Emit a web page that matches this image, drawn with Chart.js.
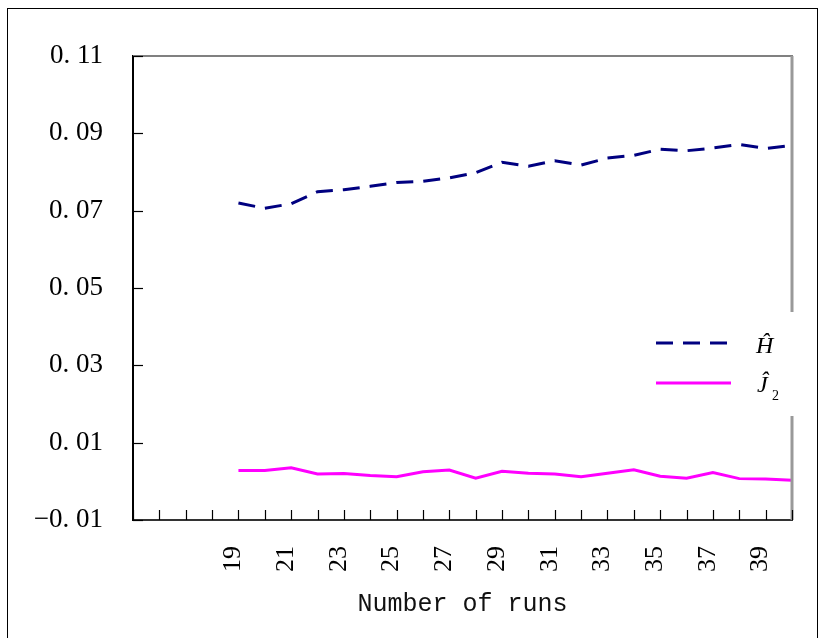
<!DOCTYPE html>
<html><head><meta charset="utf-8">
<script src="https://cdn.jsdelivr.net/npm/chart.js@4/dist/chart.umd.min.js"></script>
<style>
html,body{margin:0;padding:0;background:#fff;overflow:hidden}
#wrap{position:relative;width:820px;height:638px}
#frame{position:absolute;left:7px;top:8px;width:811px;height:700px;border:1px solid #000;box-sizing:border-box;pointer-events:none}
canvas{position:absolute;left:0;top:0}
</style></head><body>
<div id="wrap"><canvas id="c" width="820" height="638"></canvas><div id="frame"></div></div>
<script>
// Categories (number of runs)
const runs = [15,16,17,18,19,20,21,22,23,24,25,26,27,28,29,30,31,32,33,34,35,36,37,38,39,40];
const xTickLabels = ['','','','','19','','21','','23','','25','','27','','29','','31','','33','','35','','37','','39',''];
// Series
const hHat  = [null,null,null,null,0.0720,0.0706,0.0718,0.0749,0.0754,0.0763,0.0773,0.0776,0.0785,0.0798,0.0825,0.0815,0.0829,0.0818,0.0836,0.0843,0.0859,0.0855,0.0862,0.0871,0.0861,0.0869];
const j2Hat = [null,null,null,null,0.0028,0.0028,0.0035,0.0019,0.0020,0.0015,0.0012,0.0025,0.0029,0.0008,0.0026,0.0021,0.0019,0.0012,0.0021,0.0030,0.0013,0.0008,0.0023,0.0007,0.0006,0.0003];
const seriesNames = ['\u0124','\u0134'];
// Y ticks
const yTickValues = [-0.01,0.01,0.03,0.05,0.07,0.09,0.11];
const yTickLabels = ['\u22120. 01','0. 01','0. 03','0. 05','0. 07','0. 09','0. 11'];

const decor = {
  id:'decor',
  afterDatasetsDraw(chart){
    const ctx = chart.ctx, a = chart.chartArea;
    const xs = chart.scales.x, ys = chart.scales.y;
    ctx.save();
    ctx.strokeStyle = '#808080'; ctx.lineWidth = 2;
    ctx.beginPath(); ctx.moveTo(a.left, a.top); ctx.lineTo(a.right+1, a.top); ctx.stroke();
    ctx.strokeStyle = '#999'; ctx.lineWidth = 3;
    ctx.beginPath(); ctx.moveTo(a.right, a.top); ctx.lineTo(a.right, a.bottom); ctx.stroke();
    ctx.strokeStyle = '#000'; ctx.lineWidth = 1.2;
    xs.ticks.forEach((t,i)=>{
      const x = Math.round(xs.getPixelForTick(i))+0.5;
      ctx.beginPath(); ctx.moveTo(x, a.bottom); ctx.lineTo(x, a.bottom-10); ctx.stroke();
    });
    ys.ticks.forEach((t,i)=>{
      const y = Math.round(ys.getPixelForTick(i))+0.5;
      ctx.beginPath(); ctx.moveTo(a.left, y); ctx.lineTo(a.left+10, y); ctx.stroke();
    });
    ctx.restore();
  },
  afterDraw(chart){
    const ctx = chart.ctx;
    ctx.save();
    ctx.fillStyle = '#fff';
    ctx.fillRect(642, 312, 160, 104);
    const rows = [343, 383];
    chart.data.datasets.forEach((ds,i)=>{
      const y = rows[i];
      ctx.strokeStyle = ds.borderColor; ctx.lineWidth = ds.borderWidth;
      ctx.setLineDash(ds.borderDash || []);
      ctx.beginPath(); ctx.moveTo(656, y); ctx.lineTo(i ? 731 : 728, y); ctx.stroke();
    });
    ctx.setLineDash([]);
    ctx.fillStyle = '#000';
    ctx.textBaseline = 'alphabetic';
    ctx.font = 'italic 24px "Liberation Serif"';
    ctx.fillText(seriesNames[0], 756, 353);
    ctx.fillText(seriesNames[1], 757, 392);
    ctx.font = '14px "Liberation Serif"';
    ctx.fillText('2', 772, 400);
    ctx.restore();
  }
};

new Chart(document.getElementById('c'), {
  type:'line',
  data:{
    labels: runs,
    datasets:[
      {label:seriesNames[0], data:hHat, borderColor:'#000080', borderWidth:3, borderDash:[17,10], pointRadius:0, tension:0, fill:false},
      {label:seriesNames[1], data:j2Hat, borderColor:'#FF00FF', borderWidth:3, pointRadius:0, tension:0, fill:false}
    ]
  },
  options:{
    responsive:false, animation:false,
    layout:{padding:{left:0, top:56, right:28, bottom:0}},
    plugins:{legend:{display:false}, tooltip:{enabled:false}},
    scales:{
      x:{
        type:'category', offset:false,
        grid:{display:false, drawTicks:false},
        border:{display:true, color:'#333', width:2},
        ticks:{autoSkip:false, minRotation:90, maxRotation:90, padding:26, labelOffset:-5,
          color:'#000', font:{family:'"Liberation Serif"', size:26},
          callback:(v,i)=>xTickLabels[i]},
        title:{display:true, text:'Number of runs', color:'#111',
          font:{family:'"Liberation Mono"', size:25}, padding:{top:0,bottom:19}},
        afterFit(s){ s.height = 118; s.paddingLeft = 0; s.paddingRight = 0; }
      },
      y:{
        min:-0.01, max:0.11,
        grid:{display:false, drawTicks:false},
        border:{display:true, color:'#000', width:2},
        afterBuildTicks(s){ s.ticks = yTickValues.map(v=>({value:v})); },
        ticks:{padding:30, color:'#000', font:{family:'"Liberation Serif"', size:27},
          callback:(v,i)=>yTickLabels[i]},
        afterFit(s){ s.width = 133; s.paddingTop = 0; s.paddingBottom = 0; }
      }
    }
  },
  plugins:[decor]
});
</script>
</body></html>
